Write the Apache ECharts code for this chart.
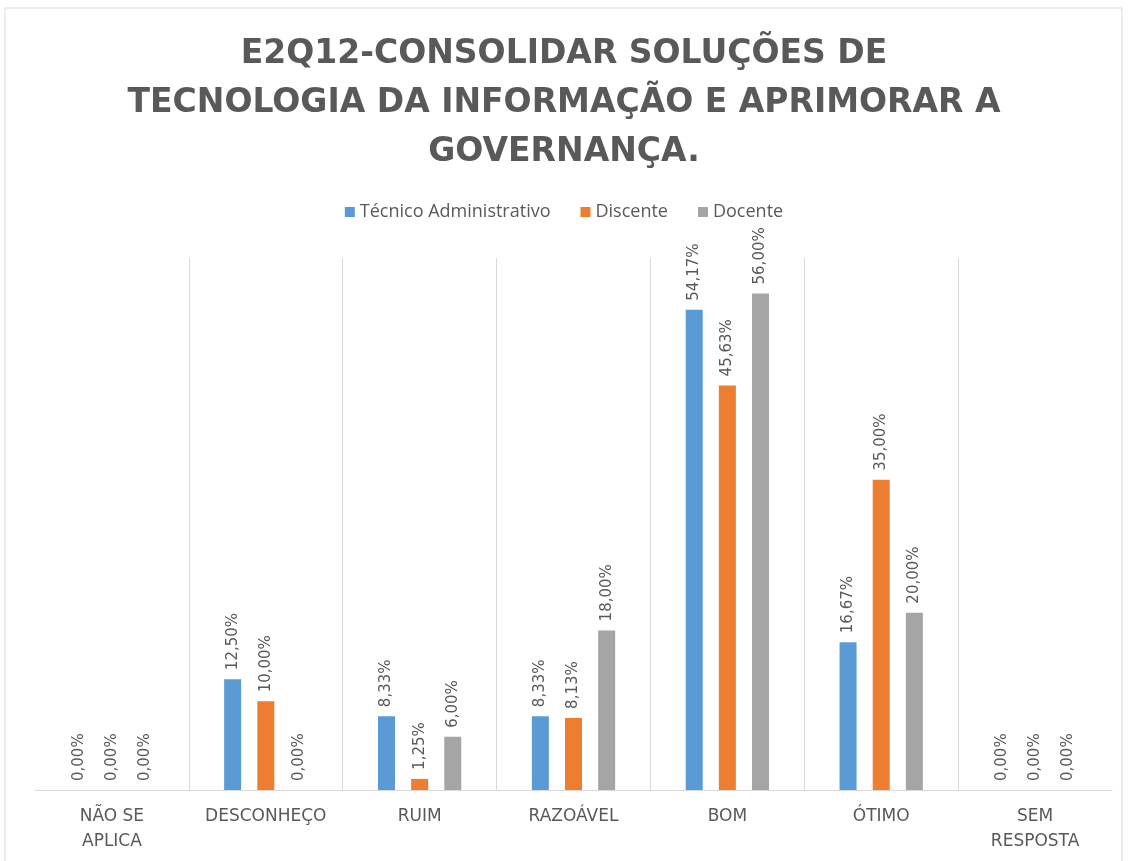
<!DOCTYPE html>
<html>
<head>
<meta charset="utf-8">
<script src="https://cdn.jsdelivr.net/npm/echarts@6/dist/echarts.min.js"></script>
<style>
  html, body { margin: 0; padding: 0; background: #fff; }
  #chart { width: 1128px; height: 861px; }
</style>
</head>
<body>
<div id="chart"></div>
<script>
// categorias e valores (%)
const categories = ['NÃO SE\nAPLICA', 'DESCONHEÇO', 'RUIM', 'RAZOÁVEL', 'BOM', 'ÓTIMO', 'SEM\nRESPOSTA']
const tecnicoData = [0, 12.50, 8.33, 8.33, 54.17, 16.67, 0]
const discenteData = [0, 10.00, 1.25, 8.13, 45.63, 35.00, 0]
const docenteData = [0, 0, 6.00, 18.00, 56.00, 20.00, 0]
const seriesNames = ['Técnico Administrativo', 'Discente', 'Docente']

const textColor = '#595959'
const fmt = p => p.value.toFixed(2).replace('.', ',') + '%'

function makeSeries (name, data, color) {
  return {
    name: name,
    type: 'bar',
    data: data,
    barWidth: 17,
    barGap: '95%',
    itemStyle: { color: color },
    label: {
      show: true,
      position: 'top',
      rotate: 90,
      align: 'left',
      verticalAlign: 'middle',
      distance: 9,
      color: textColor,
      fontFamily: 'DejaVu Sans',
      fontSize: 15,
      formatter: fmt
    }
  }
}

const chart = echarts.init(document.getElementById('chart'))
chart.setOption({
  animation: false,
  title: {
    text: 'E2Q12-CONSOLIDAR SOLUÇÕES DE\nTECNOLOGIA DA INFORMAÇÃO E APRIMORAR A\nGOVERNANÇA.',
    left: 'center',
    top: 25,
    textStyle: {
      color: textColor,
      fontFamily: 'DejaVu Sans',
      fontWeight: 'bold',
      fontSize: 33,
      lineHeight: 49
    }
  },
  legend: {
    data: seriesNames,
    top: 198,
    left: 'center',
    itemWidth: 10,
    itemHeight: 10,
    itemGap: 30,
    icon: 'rect',
    textStyle: { color: textColor, fontFamily: 'Open Sans', fontSize: 18 }
  },
  graphic: [{
    type: 'rect',
    shape: { x: 5, y: 8, width: 1117, height: 860 },
    style: { fill: 'none', stroke: '#d9d9d9', lineWidth: 1 },
    silent: true
  }],
  grid: { left: 35, right: 16, top: 258, bottom: 71 },
  xAxis: {
    type: 'category',
    data: categories,
    axisLine: { lineStyle: { color: '#d9d9d9' } },
    axisTick: { show: false },
    splitLine: { show: true, showMinLine: false, showMaxLine: false, lineStyle: { color: '#d9d9d9' } },
    axisLabel: {
      color: textColor,
      fontFamily: 'DejaVu Sans',
      fontSize: 17,
      lineHeight: 25,
      margin: 14,
      interval: 0
    }
  },
  yAxis: {
    type: 'value',
    min: 0,
    max: 60,
    show: false,
    splitLine: { show: false }
  },
  series: [
    makeSeries(seriesNames[0], tecnicoData, '#5B9BD5'),
    makeSeries(seriesNames[1], discenteData, '#ED7D31'),
    makeSeries(seriesNames[2], docenteData, '#A5A5A5')
  ]
})
</script>
</body>
</html>
